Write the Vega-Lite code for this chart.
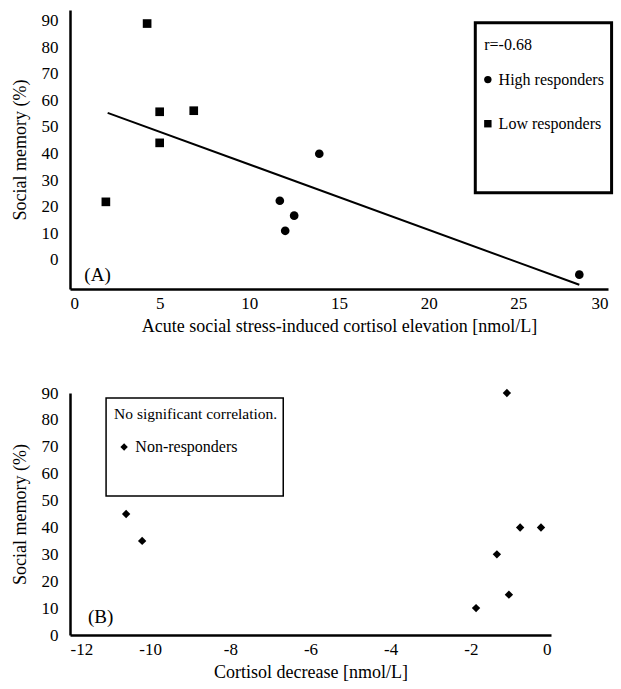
{
  "$schema": "https://vega.github.io/schema/vega-lite/v6.json",
  "background": "white",
  "padding": {"left": 11, "top": 10, "right": 5, "bottom": 5},
  "spacing": 49,
  "config": {
    "font": "Liberation Serif",
    "view": {"stroke": null},
    "axis": {
      "grid": false,
      "domain": true,
      "ticks": false,
      "tickSize": 0,
      "domainColor": "#000000",
      "domainOpacity": 1,
      "domainWidth": 2.5,
      "labelFont": "Liberation Serif",
      "labelFontSize": 17,
      "labelColor": "black",
      "titleFont": "Liberation Serif",
      "titleFontSize": 18,
      "titleFontWeight": "normal",
      "titleColor": "black"
    },
    "text": {"font": "Liberation Serif", "color": "black"}
  },
  "datasets": {
    "a_points": [
      {"x": 2.0, "y": 21.8, "group": "Low responders"},
      {"x": 4.3, "y": 88.9, "group": "Low responders"},
      {"x": 5.0, "y": 55.7, "group": "Low responders"},
      {"x": 5.0, "y": 44.0, "group": "Low responders"},
      {"x": 6.9, "y": 56.1, "group": "Low responders"},
      {"x": 13.9, "y": 39.9, "group": "High responders"},
      {"x": 11.7, "y": 22.2, "group": "High responders"},
      {"x": 12.5, "y": 16.6, "group": "High responders"},
      {"x": 12.0, "y": 10.9, "group": "High responders"},
      {"x": 28.4, "y": -5.6, "group": "High responders"}
    ],
    "a_fit": [
      {"x": 2.1, "y": 55.3},
      {"x": 28.4, "y": -9.4}
    ],
    "a_box": [
      {"x": 22.6, "x2": 30.2, "y": 89.2, "y2": 25.2}
    ],
    "a_text": [
      {"x": 23.1, "y": 81.0, "label": "r=-0.68", "size": 16},
      {"x": 23.9, "y": 67.8, "label": "High responders", "size": 16},
      {"x": 23.9, "y": 51.2, "label": "Low responders", "size": 16},
      {"x": 0.8, "y": -5.6, "label": "(A)", "size": 19}
    ],
    "a_keys": [
      {"x": 23.3, "y": 67.8, "group": "High responders"},
      {"x": 23.3, "y": 51.2, "group": "Low responders"}
    ],
    "a_yticks": [
      {"y": 0}, {"y": 10}, {"y": 20}, {"y": 30}, {"y": 40},
      {"y": 50}, {"y": 60}, {"y": 70}, {"y": 80}, {"y": 90}
    ],
    "a_xticks": [
      {"x": 5}, {"x": 10}, {"x": 15}, {"x": 20}, {"x": 25}, {"x": 30}
    ],
    "b_points": [
      {"x": -1.1, "y": 90},
      {"x": -0.77, "y": 40},
      {"x": -0.25, "y": 40},
      {"x": -1.35, "y": 30},
      {"x": -1.05, "y": 15},
      {"x": -1.87, "y": 10},
      {"x": -10.6, "y": 45},
      {"x": -10.2, "y": 35}
    ],
    "b_box": [
      {"x": -11.1, "x2": -6.68, "y": 88.1, "y2": 51.7}
    ],
    "b_text": [
      {"x": -10.9, "y": 82.2, "label": "No significant correlation.", "size": 15.5},
      {"x": -10.37, "y": 69.9, "label": "Non-responders", "size": 16},
      {"x": -11.55, "y": 6.7, "label": "(B)", "size": 19}
    ],
    "b_keys": [
      {"x": -10.65, "y": 69.9}
    ],
    "b_yticks": [
      {"y": 10}, {"y": 20}, {"y": 30}, {"y": 40},
      {"y": 50}, {"y": 60}, {"y": 70}, {"y": 80}, {"y": 90}
    ],
    "b_xticks": [
      {"x": -10}, {"x": -8}, {"x": -6}, {"x": -4}, {"x": -2}, {"x": 0}
    ]
  },
  "vconcat": [
    {
      "width": 538,
      "height": 279,
      "encoding": {
        "x": {"field": "x", "type": "quantitative",
              "scale": {"domain": [0, 30], "nice": false, "zero": false},
              "axis": {"title": "Acute social stress-induced cortisol elevation [nmol/L]", "values": [0, 5, 10, 15, 20, 25, 30], "labelPadding": 6, "titlePadding": 6}},
        "y": {"field": "y", "type": "quantitative",
              "scale": {"domain": [-11, 94], "nice": false, "zero": false},
              "axis": {"title": "Social memory (%)", "values": [0, 10, 20, 30, 40, 50, 60, 70, 80, 90], "labelPadding": 12, "titlePadding": 12}}
      },
      "layer": [
        {
          "data": {"name": "a_yticks"},
          "mark": {"type": "rule", "color": "black", "strokeWidth": 2.5},
          "encoding": {"x": {"datum": 0}, "x2": {"datum": 0.45}}
        },
        {
          "data": {"name": "a_xticks"},
          "mark": {"type": "rule", "color": "black", "strokeWidth": 2.5},
          "encoding": {"y": {"datum": -11}, "y2": {"datum": -8.2}}
        },
        {
          "data": {"name": "a_box"},
          "mark": {"type": "rect", "fill": "white", "stroke": "black", "strokeWidth": 3},
          "encoding": {"x2": {"field": "x2"}, "y2": {"field": "y2"}}
        },
        {
          "data": {"name": "a_fit"},
          "mark": {"type": "line", "color": "black", "strokeWidth": 2},
          "encoding": {}
        },
        {
          "data": {"name": "a_points"},
          "mark": {"type": "point", "filled": true, "color": "black", "opacity": 1, "size": 75},
          "encoding": {
            "shape": {"field": "group", "type": "nominal",
                      "scale": {"domain": ["High responders", "Low responders"], "range": ["circle", "square"]},
                      "legend": null}
          }
        },
        {
          "data": {"name": "a_keys"},
          "mark": {"type": "point", "filled": true, "color": "black", "opacity": 1, "size": 55},
          "encoding": {
            "shape": {"field": "group", "type": "nominal", "legend": null}
          }
        },
        {
          "data": {"name": "a_text"},
          "mark": {"type": "text", "align": "left", "baseline": "middle", "font": "Liberation Serif", "color": "black"},
          "encoding": {
            "text": {"field": "label"},
            "size": {"field": "size", "type": "quantitative", "scale": null}
          }
        }
      ]
    },
    {
      "width": 481,
      "height": 242,
      "encoding": {
        "x": {"field": "x", "type": "quantitative",
              "scale": {"domain": [-12, 0], "nice": false, "zero": false},
              "axis": {"title": "Cortisol decrease [nmol/L]", "values": [-12, -10, -8, -6, -4, -2, 0], "labelPadding": 6, "titlePadding": 6, "labelExpr": "replace(datum.label, '−', '-')"}},
        "y": {"field": "y", "type": "quantitative",
              "scale": {"domain": [0, 90], "nice": false, "zero": false},
              "axis": {"title": "Social memory (%)", "values": [0, 10, 20, 30, 40, 50, 60, 70, 80, 90], "labelPadding": 12, "titlePadding": 12}}
      },
      "layer": [
        {
          "data": {"name": "b_yticks"},
          "mark": {"type": "rule", "color": "black", "strokeWidth": 2.5},
          "encoding": {"x": {"datum": -12}, "x2": {"datum": -11.8}}
        },
        {
          "data": {"name": "b_xticks"},
          "mark": {"type": "rule", "color": "black", "strokeWidth": 2.5},
          "encoding": {"y": {"datum": 0}, "y2": {"datum": 2.8}}
        },
        {
          "data": {"name": "b_box"},
          "mark": {"type": "rect", "fill": "white", "stroke": "black", "strokeWidth": 1.5},
          "encoding": {"x2": {"field": "x2"}, "y2": {"field": "y2"}}
        },
        {
          "data": {"name": "b_points"},
          "mark": {"type": "point", "shape": "diamond", "filled": true, "color": "black", "opacity": 1, "size": 70},
          "encoding": {}
        },
        {
          "data": {"name": "b_keys"},
          "mark": {"type": "point", "shape": "diamond", "filled": true, "color": "black", "opacity": 1, "size": 55},
          "encoding": {}
        },
        {
          "data": {"name": "b_text"},
          "mark": {"type": "text", "align": "left", "baseline": "middle", "font": "Liberation Serif", "color": "black"},
          "encoding": {
            "text": {"field": "label"},
            "size": {"field": "size", "type": "quantitative", "scale": null}
          }
        }
      ]
    }
  ]
}
